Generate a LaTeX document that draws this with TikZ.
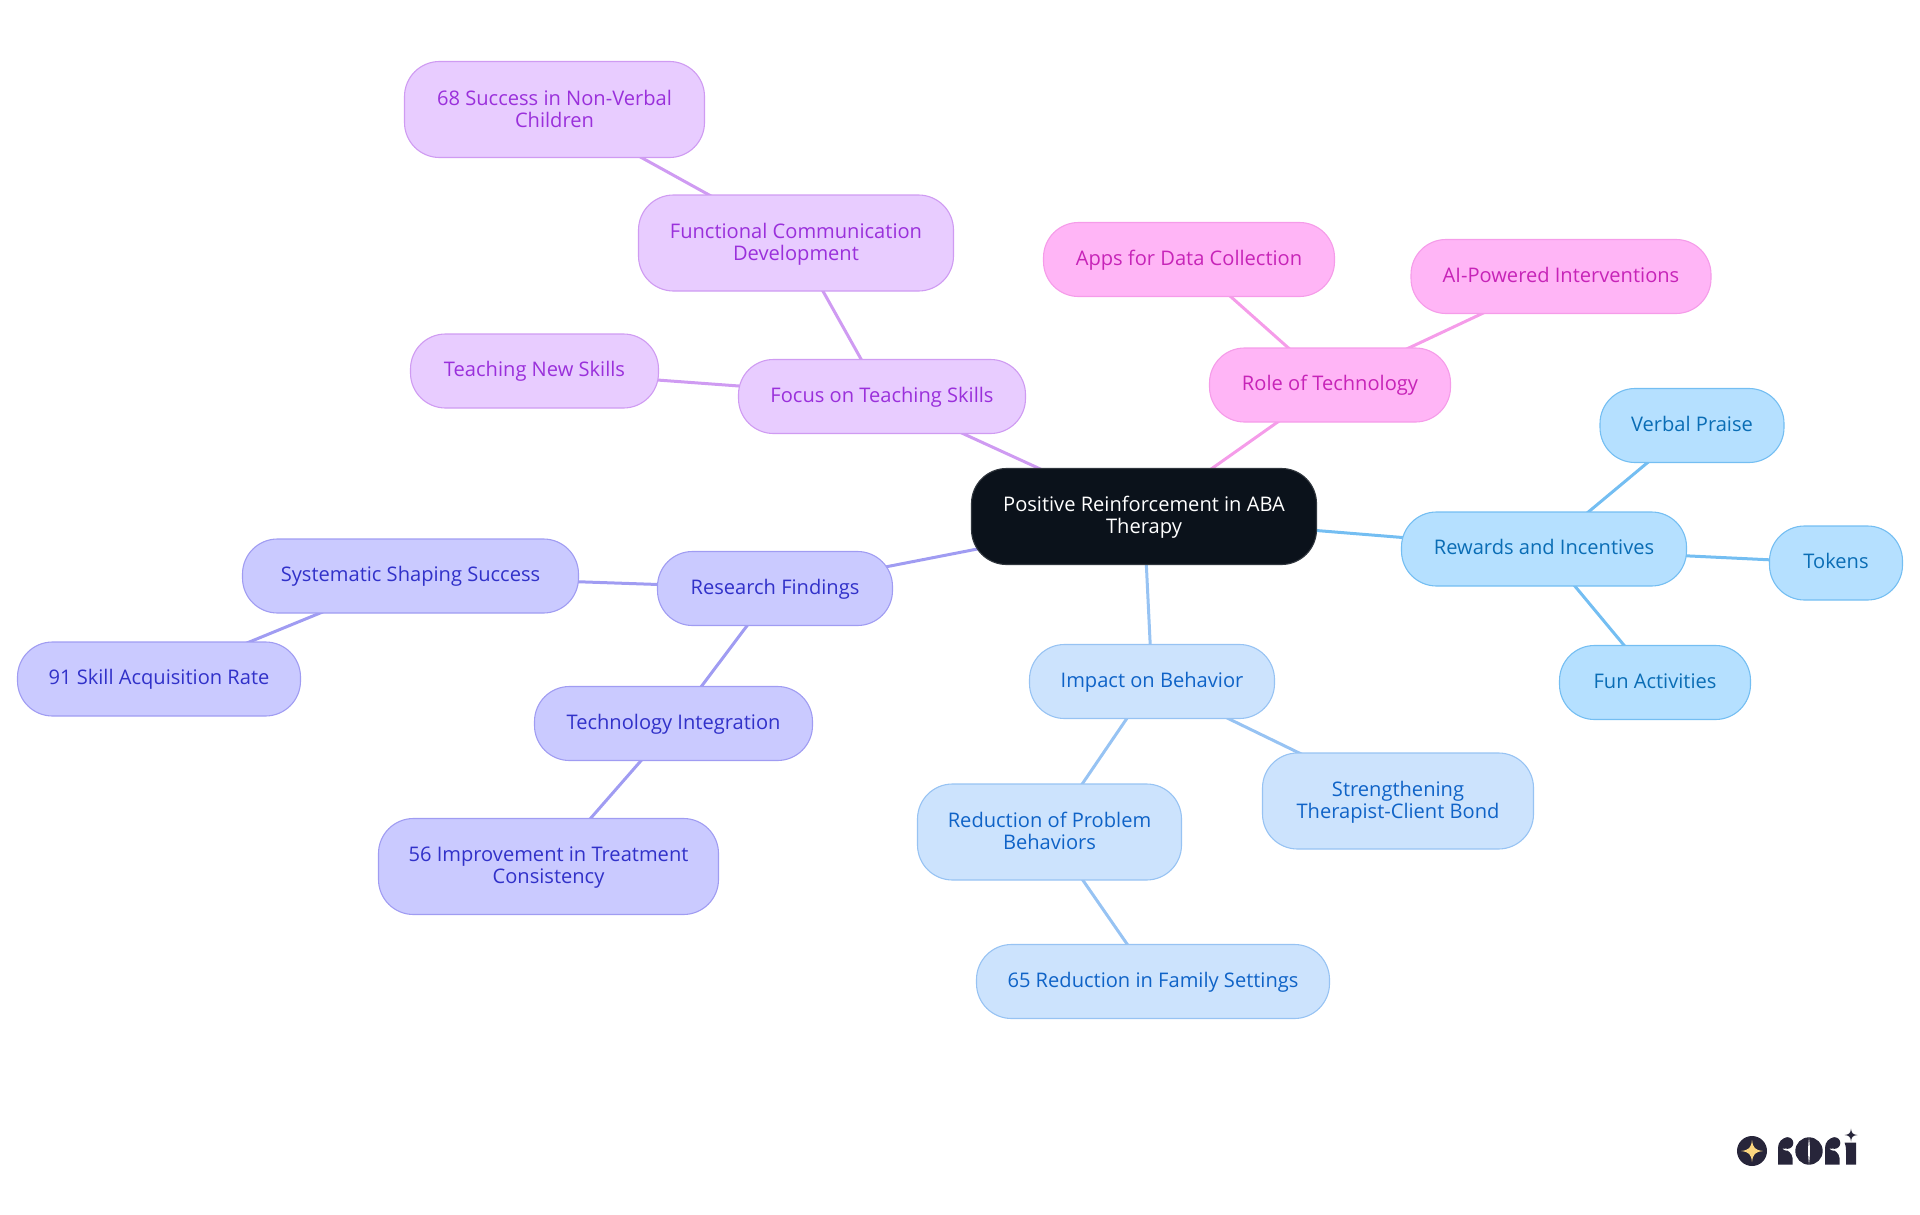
\documentclass[tikz,border=0pt]{standalone}
\usepackage{fontspec}
\setmainfont{Open Sans}
\usetikzlibrary{backgrounds}
\newcommand{\lineprop}{\rule[-4.6pt]{0pt}{20.6pt}}
\newcommand{\firstln}{\rule{0pt}{17.6pt}}
\definecolor{purF}{HTML}{E8CCFF}\definecolor{purD}{HTML}{CF9BF2}\definecolor{purT}{HTML}{9A30DB}
\definecolor{pinF}{HTML}{FFB5F6}\definecolor{pinD}{HTML}{F59CE9}\definecolor{pinT}{HTML}{C724B8}
\definecolor{skyF}{HTML}{B5E0FF}\definecolor{skyD}{HTML}{74BEF2}\definecolor{skyT}{HTML}{0A6DB5}
\definecolor{bluF}{HTML}{CCE3FD}\definecolor{bluD}{HTML}{97C3F3}\definecolor{bluT}{HTML}{0F63C7}
\definecolor{indF}{HTML}{CACAFF}\definecolor{indD}{HTML}{A09CF2}\definecolor{indT}{HTML}{3131C9}
\definecolor{rootF}{HTML}{0B121B}\definecolor{logoD}{HTML}{27253A}\definecolor{logoY}{HTML}{FBD67F}
\tikzset{
  mnode/.style={draw, line width=1.1pt, rounded corners=35pt, inner sep=0pt, align=center,
    font=\fontsize{20.1}{22}\selectfont, minimum height=74pt,
    execute at begin node=\lineprop, execute at end node=\lineprop},
  tall/.style={minimum height=96pt},
  rootnode/.style={mnode, tall, fill=rootF, draw=rootF!85!white, text=white},
  purn/.style={mnode, fill=purF, draw=purD, text=purT},
  pinn/.style={mnode, fill=pinF, draw=pinD, text=pinT},
  skyn/.style={mnode, fill=skyF, draw=skyD, text=skyT},
  blun/.style={mnode, fill=bluF, draw=bluD, text=bluT},
  indn/.style={mnode, fill=indF, draw=indD, text=indT},
  edgeline/.style={line width=3pt},
  logo/.style={fill=logoD, draw=none}
}
\begin{document}
\begin{tikzpicture}[x=1pt,y=-1pt]
\useasboundingbox (0,0) rectangle (1920,1215);
\node[rootnode, minimum width=345pt] (root) at (1144,516.5) {\firstln Positive Reinforcement in ABA\\Therapy};
\node[skyn, minimum width=285pt] (rew) at (1544,549) {Rewards and Incentives};
\node[skyn, minimum width=184pt] (verbal) at (1692,425.5) {Verbal Praise};
\node[skyn, minimum width=133pt] (tokens) at (1836,563) {Tokens};
\node[skyn, minimum width=191pt] (fun) at (1655,682.5) {Fun Activities};
\node[blun, minimum width=245pt] (impact) at (1152,681.5) {Impact on Behavior};
\node[blun, tall, minimum width=264pt] (reduct) at (1049.5,832) {\firstln Reduction of Problem\\Behaviors};
\node[blun, tall, minimum width=271pt] (strength) at (1398,801) {\firstln Strengthening\\Therapist-Client Bond};
\node[blun, minimum width=353pt] (family) at (1153,981.5) {65 Reduction in Family Settings};
\node[pinn, minimum width=241pt] (role) at (1330,385) {Role of Technology};
\node[pinn, minimum width=291pt] (apps) at (1189,259.5) {Apps for Data Collection};
\node[pinn, minimum width=300pt] (ai) at (1561,276.5) {AI-Powered Interventions};
\node[purn, minimum width=287pt] (focus) at (882,396.5) {Focus on Teaching Skills};
\node[purn, minimum width=248pt] (teach) at (534.5,371) {Teaching New Skills};
\node[purn, tall, minimum width=315pt] (func) at (796,243) {\firstln Functional Communication\\Development};
\node[purn, tall, minimum width=300pt] (nonverb) at (554.5,109.5) {\firstln 68 Success in Non-Verbal\\Children};
\node[indn, minimum width=235pt] (research) at (775,588.5) {Research Findings};
\node[indn, minimum width=336pt] (shaping) at (410.5,576) {Systematic Shaping Success};
\node[indn, minimum width=283pt] (skill) at (159,679) {91 Skill Acquisition Rate};
\node[indn, minimum width=278pt] (techint) at (673.5,723.5) {Technology Integration};
\node[indn, tall, minimum width=340pt] (consist) at (548.5,866.5) {\firstln 56 Improvement in Treatment\\Consistency};
\begin{scope}[on background layer]
\draw[edgeline, skyD] (root.center) -- (rew.center);
\draw[edgeline, skyD] (rew.center) -- (verbal.center);
\draw[edgeline, skyD] (rew.center) -- (tokens.center);
\draw[edgeline, skyD] (rew.center) -- (fun.center);
\draw[edgeline, bluD] (root.center) -- (impact.center);
\draw[edgeline, bluD] (impact.center) -- (reduct.center);
\draw[edgeline, bluD] (impact.center) -- (strength.center);
\draw[edgeline, bluD] (reduct.center) -- (family.center);
\draw[edgeline, pinD] (root.center) -- (role.center);
\draw[edgeline, pinD] (role.center) -- (apps.center);
\draw[edgeline, pinD] (role.center) -- (ai.center);
\draw[edgeline, purD] (root.center) -- (focus.center);
\draw[edgeline, purD] (focus.center) -- (teach.center);
\draw[edgeline, purD] (focus.center) -- (func.center);
\draw[edgeline, purD] (func.center) -- (nonverb.center);
\draw[edgeline, indD] (root.center) -- (research.center);
\draw[edgeline, indD] (research.center) -- (shaping.center);
\draw[edgeline, indD] (shaping.center) -- (skill.center);
\draw[edgeline, indD] (research.center) -- (techint.center);
\draw[edgeline, indD] (techint.center) -- (consist.center);
\end{scope}
% logo: star disc
\fill[logo] (1752,1151) circle (15);
\fill[logoY] (1752,1140) .. controls (1753,1148) and (1755,1150) .. (1763,1151) .. controls (1755,1152) and (1753,1154) .. (1752,1162) .. controls (1751,1154) and (1749,1152) .. (1741,1151) .. controls (1749,1150) and (1751,1148) .. (1752,1140) -- cycle;
% logo: first r
\fill[logo] (1778,1164.5) -- (1778,1148) .. controls (1778,1142) and (1782,1137.5) .. (1788,1137.5) -- (1788,1148) -- (1784,1148) .. controls (1788,1151) and (1792,1153) .. (1792.5,1158) -- (1792.5,1164.5) -- cycle;
\fill[logo] (1787.5,1143) circle (5.8);
\fill[white] (1782.5,1148.5) .. controls (1784,1151) and (1788,1151) .. (1791,1150) -- (1788,1149.5) -- cycle;
% logo: o with slit
\fill[logo] (1809,1151) circle (13.7);
\fill[white] (1809,1138) .. controls (1810.2,1146) and (1810.2,1156) .. (1809,1164) .. controls (1807.8,1156) and (1807.8,1146) .. (1809,1138) -- cycle;
% logo: second r
\fill[logo] (1825,1164.5) -- (1825,1148) .. controls (1825,1142) and (1829,1137.5) .. (1835,1137.5) -- (1835,1148) -- (1831,1148) .. controls (1835,1151) and (1839,1153) .. (1839.5,1158) -- (1839.5,1164.5) -- cycle;
\fill[logo] (1834.5,1143) circle (5.8);
\fill[white] (1829.5,1148.5) .. controls (1831,1151) and (1835,1151) .. (1838,1150) -- (1835,1149.5) -- cycle;
% logo: i and sparkle
\fill[logo] (1844.5,1142.5) -- (1856,1142.5) -- (1856,1164.5) -- (1846,1164.5) -- (1846,1150) .. controls (1846,1147) and (1845.5,1145) .. (1844.5,1142.5) -- cycle;
\fill[logo] (1851,1128.5) .. controls (1851.5,1133) and (1852.5,1134.5) .. (1857.5,1135) .. controls (1852.5,1135.5) and (1851.5,1137) .. (1851,1141.5) .. controls (1850.5,1137) and (1849.5,1135.5) .. (1844.5,1135) .. controls (1849.5,1134.5) and (1850.5,1133) .. (1851,1128.5) -- cycle;
\end{tikzpicture}
\end{document}
